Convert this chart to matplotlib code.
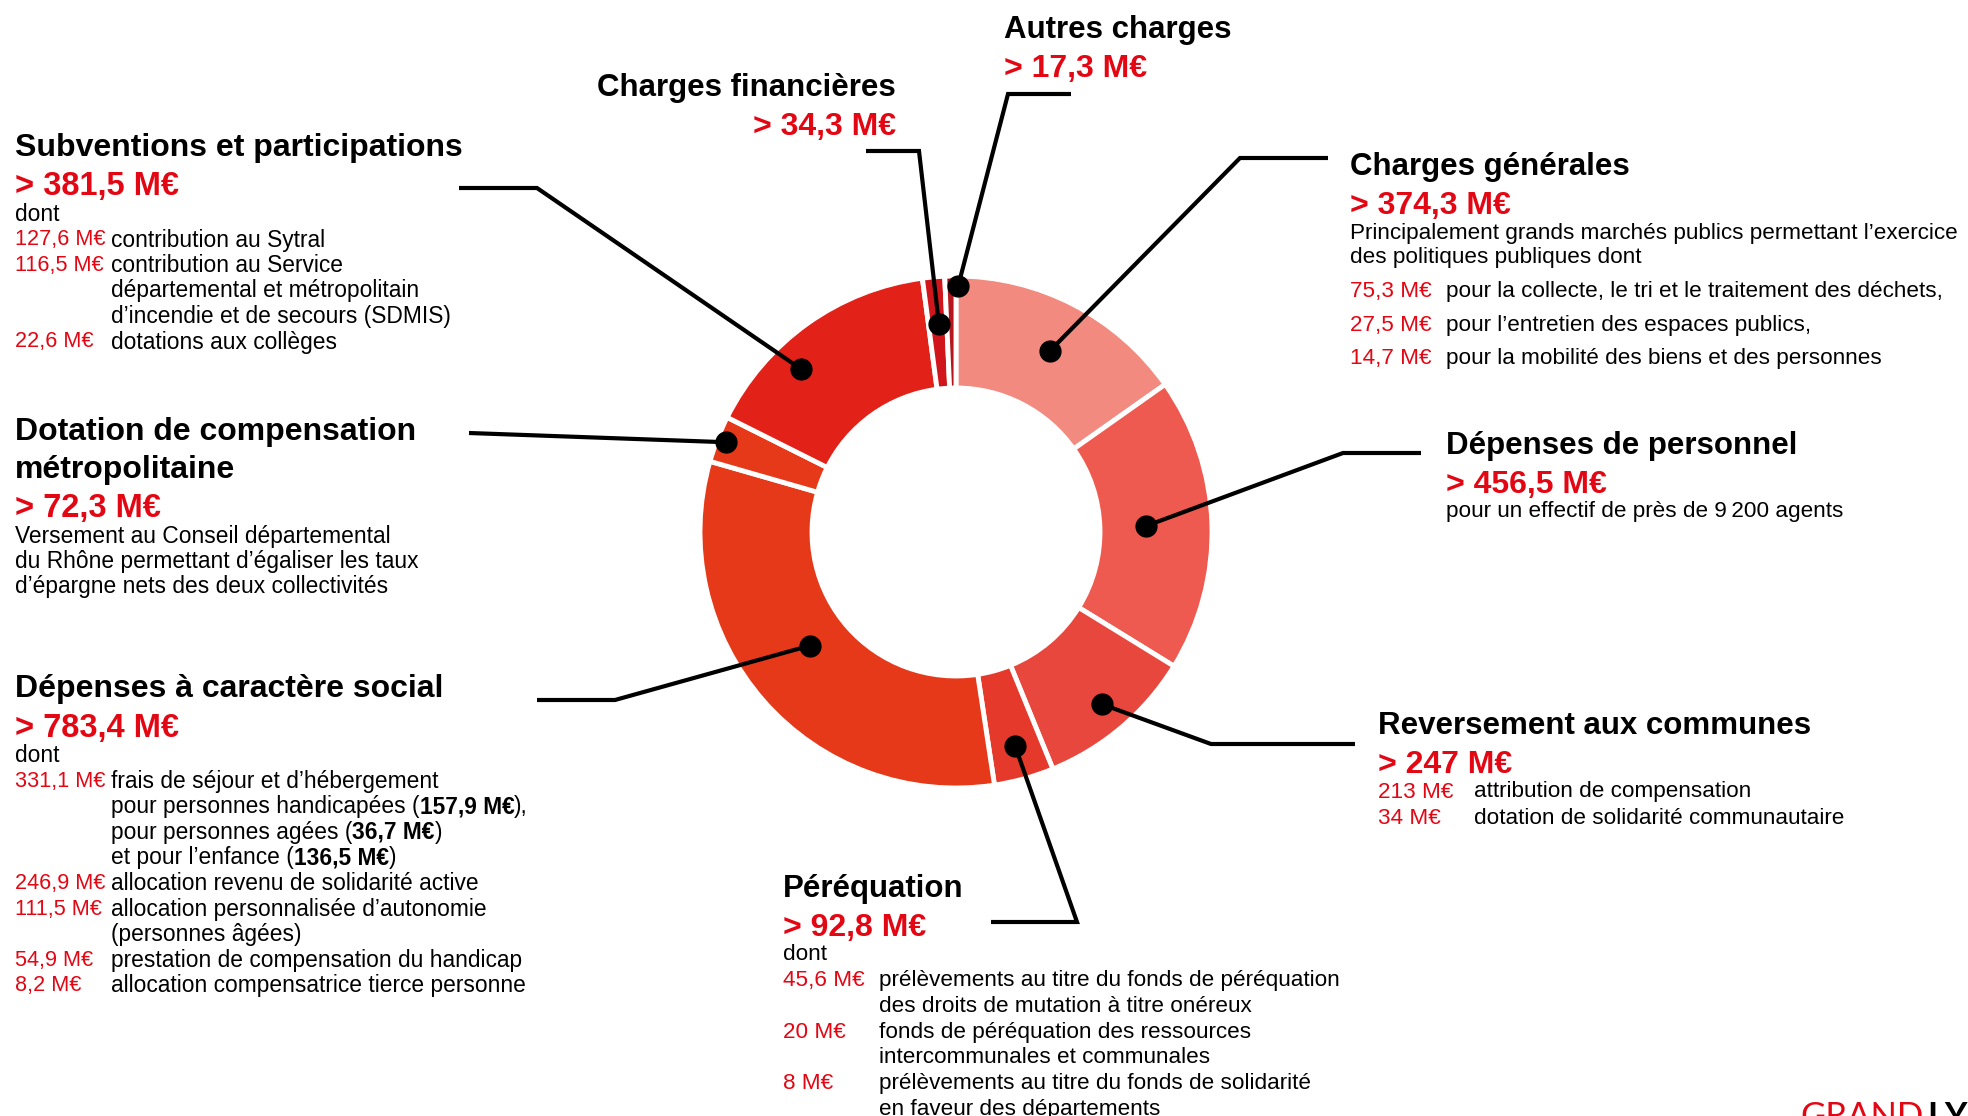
import re
import numpy as np
import matplotlib.pyplot as plt
from matplotlib import font_manager

names = {f.name for f in font_manager.fontManager.ttflist}
BODY = 'Liberation Sans'
NARROW = 'Liberation Sans Narrow' if 'Liberation Sans Narrow' in names else 'Liberation Sans'

W, H = 1968, 1116
RED = '#E30613'

# ---- data ----
categories = ["Charges générales", "Dépenses de personnel", "Reversement aux communes",
              "Péréquation", "Dépenses à caractère social",
              "Dotation de compensation\nmétropolitaine", "Subventions et participations",
              "Charges financières", "Autres charges"]
values = [374.3, 456.5, 247, 92.8, 783.4, 72.3, 381.5, 34.3, 17.3]
colors = ['#F28A80', '#EE5A4F', '#E8473E', '#E5392C', '#E5391A',
          '#E5391A', '#E22119', '#D0161B', '#B5171C']

intro = [
    ["Principalement grands marchés publics permettant l’exercice",
     "des politiques publiques dont"],
    ["pour un effectif de près de 9\u2009200 agents"],
    [],
    ["dont"],
    ["dont"],
    ["Versement au Conseil départemental",
     "du Rhône permettant d’égaliser les taux",
     "d’épargne nets des deux collectivités"],
    ["dont"],
    [],
    [],
]
details = [
    [("75,3 M€", ["pour la collecte, le tri et le traitement des déchets,"]),
     ("27,5 M€", ["pour l’entretien des espaces publics,"]),
     ("14,7 M€", ["pour la mobilité des biens et des personnes"])],
    [],
    [("213 M€", ["attribution de compensation"]),
     ("34 M€", ["dotation de solidarité communautaire"])],
    [("45,6 M€", ["prélèvements au titre du fonds de péréquation",
                  "des droits de mutation à titre onéreux"]),
     ("20 M€", ["fonds de péréquation des ressources",
                "intercommunales et communales"]),
     ("8 M€", ["prélèvements au titre du fonds de solidarité",
               "en faveur des départements"])],
    [("331,1 M€", ["frais de séjour et d’hébergement",
                   "pour personnes handicapées (**157,9 M€**),",
                   "pour personnes agées (**36,7 M€**)",
                   "et pour l’enfance (**136,5 M€**)"]),
     ("246,9 M€", ["allocation revenu de solidarité active"]),
     ("111,5 M€", ["allocation personnalisée d’autonomie", "(personnes âgées)"]),
     ("54,9 M€", ["prestation de compensation du handicap"]),
     ("8,2 M€", ["allocation compensatrice tierce personne"])],
    [],
    [("127,6 M€", ["contribution au Sytral"]),
     ("116,5 M€", ["contribution au Service",
                   "départemental et métropolitain",
                   "d’incendie et de secours (SDMIS)"]),
     ("22,6 M€", ["dotations aux collèges"])],
    [],
    [],
]

# ---- layout (pixels, y from top) ----
CX, CY, R_OUT, RING = 956, 532, 256, 112
anchor_r = [204, 190, 226, 222, 185, 247, 225, 209, 246]
anchor_frac = [0.5, 0.5, 0.5, 0.5, 0.53, 0.5, 0.355, 0.57, 1.2]
leaders = [[(1240, 158), (1328, 158)], [(1343, 453), (1421, 453)],
           [(1211, 744), (1355, 744)], [(1077, 922), (991, 922)],
           [(615, 700), (537, 700)], [(469, 433)],
           [(537, 188), (459, 188)], [(919, 151), (866, 151)],
           [(1008, 94), (1071, 94)]]
# x, y of title, align, narrow, line step, item step
blocks = [(1350, 167, 'left', True, 25, 33.5),
          (1446, 446, 'left', True, 25, 25),
          (1378, 726, 'left', True, 27, 27),
          (783, 889, 'left', True, 25.7, 25.7),
          (15, 689, 'left', False, 25.6, 25.6),
          (15, 432, 'left', False, 25, 25),
          (15, 148, 'left', False, 25.5, 25.5),
          (896, 88, 'right', True, 25, 25),
          (1004, 30, 'left', True, 25, 25)]
ITEM_DX = 96

fig = plt.figure(figsize=(W / 100, H / 100), dpi=100)
ax = fig.add_axes([0, 0, 1, 1])
wedges, _ = ax.pie(values, colors=colors, startangle=90, counterclock=False,
                   radius=R_OUT, center=(CX, H - CY),
                   wedgeprops=dict(width=RING, edgecolor='white', linewidth=3.5))
ax.set_xlim(0, W)
ax.set_ylim(0, H)
ax.set_aspect('equal')
ax.axis('off')

renderer = fig.canvas.get_renderer()


def put(x, y, s, size, color='black', weight='normal', family=BODY, ha='left'):
    return ax.text(x, H - y, s, fontsize=size, color=color, fontweight=weight,
                   family=[family, 'DejaVu Sans'], ha=ha, va='center')


def put_runs(x, y, s, size, family):
    parts = re.split(r'(\*\*.*?\*\*)', s)
    for p in parts:
        if not p:
            continue
        bold = p.startswith('**')
        t = put(x, y, p.strip('*'), size, weight='bold' if bold else 'normal', family=family)
        x += t.get_window_extent(renderer).width


def money(v):
    s = f"{v:g}".replace('.', ',')
    return f"> {s} M€"


for i, (name, v) in enumerate(zip(categories, values)):
    w = wedges[i]
    ang = np.radians(w.theta2 - anchor_frac[i] * (w.theta2 - w.theta1))
    px = CX + anchor_r[i] * np.cos(ang)
    py = CY - anchor_r[i] * np.sin(ang)
    pts = [(px, py)] + leaders[i]
    xs = [p[0] for p in pts]
    ys = [H - p[1] for p in pts]
    ax.plot(xs, ys, color='black', lw=3, solid_capstyle='butt', solid_joinstyle='miter')
    ax.plot(px, H - py, 'o', color='black', ms=15)

    x, y, ha, narrow, step, istep = blocks[i]
    fam = NARROW if narrow else BODY
    tsize = 22.5 if narrow else 23
    vsize = 23 if narrow else 23.5
    bsize = 16.2 if narrow else 16.4
    asize = 16.2 if narrow else 15.6
    for line in name.split('\n'):
        put(x, y, line, tsize, weight='bold', family=fam, ha=ha)
        y += 38
    y += 1
    put(x, y, money(v), vsize, color=RED, weight='bold', family=fam, ha=ha)
    y += 27 if narrow else 27.5
    for line in intro[i]:
        put(x, y, line, bsize, family=fam)
        y += step
    if intro[i] and istep != step:
        y += istep - step
    for amount, lines in details[i]:
        put(x, y, amount, asize, color=RED, family=fam)
        for line in lines:
            put_runs(x + ITEM_DX, y, line, bsize, fam)
            y += istep

# logo, cut by the bottom edge
g = fig.text(1800 / W, 1 - 1101 / H, "GRAND", fontsize=25, color=RED, family=['Lato', BODY],
             fontweight='normal', va='top')
gw = g.get_window_extent(renderer).width
fig.text((1800 + gw + 4) / W, 1 - 1101 / H, "LYON", fontsize=25, color='black',
         family=['Lato', BODY], fontweight='bold', va='top')

fig.savefig('out.png', dpi=100)
